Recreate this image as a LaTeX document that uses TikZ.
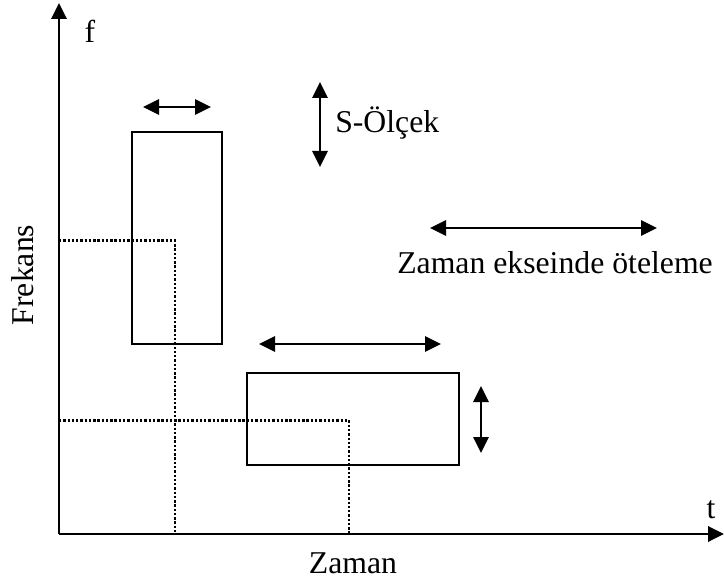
\documentclass[tikz,border=0pt]{standalone}
\usepackage{fontspec}
\setmainfont{Liberation Serif}
\usetikzlibrary{arrows.meta,positioning}

\begin{document}
\begin{tikzpicture}[x=0.75pt, y=-0.75pt, >={Triangle[length=12pt, width=11.5pt]},
    every node/.style={font=\fontsize{23.8}{28}\selectfont, inner sep=0pt},
    axis/.style={line width=1.8pt},
    window/.style={draw, line width=1pt, inner sep=0pt, outer sep=0pt},
    guide/.style={line width=2pt, dash pattern=on 1.8pt off 1.4pt},
    move/.style={<->, line width=1.5pt}]
    \useasboundingbox (0,0) rectangle (724,584);

    % Axes
    \coordinate (O) at (59,534);
    \coordinate (ftop) at (59,3);
    \coordinate (tend) at (724,534);
    \draw[axis, ->] (O) -- (ftop);
    \draw[axis, ->] (O) -- (tend);
    \node[anchor=base] (flabel) at (90,43) {f};
    \node[anchor=base] (tlabel) at (711,518) {t};
    \node[anchor=base, rotate=90] (frekans) at (33,275) {Frekans};
    \node[anchor=base] (zaman) at (353,573) {Zaman};

    % Windows
    \node[window, minimum width=67.5pt, minimum height=159pt] (win1) at (177,238) {};
    \node[window, minimum width=159pt, minimum height=69pt] (win2) at (353,419) {};

    % Guide lines to the axes
    \coordinate (g1) at ([xshift=-1.5pt, yshift=-2pt]win1.center);
    \coordinate (g2) at ([xshift=-3pt, yshift=-1pt]win2.center);
    \draw[guide] (O |- g1) -- (g1) -- (g1 |- O);
    \draw[guide] (O |- g2) -- (g2) -- (g2 |- O);

    % Moves of the windows
    \coordinate (a1) at (143,107);
    \coordinate (a2) at (211,107);
    \draw[move] (a1) -- (a2);
    \coordinate (b1) at (259,344);
    \coordinate (b2) at (441,344);
    \draw[move] (b1) -- (b2);
    \coordinate (c1) at (481,386);
    \coordinate (c2) at (481,453);
    \draw[move] (c1) -- (c2);

    % Legend
    \coordinate (s1) at (320,82);
    \coordinate (s2) at (320,167);
    \draw[move] (s1) -- (s2);
    \node[anchor=base west] (olcek) at (335,133) {S-Ölçek};
    \coordinate (k1) at (430,228);
    \coordinate (k2) at (657,228);
    \draw[move] (k1) -- (k2);
    \node[anchor=base] (oteleme) at (555,274) {Zaman ekseinde öteleme};
\end{tikzpicture}
\end{document}
